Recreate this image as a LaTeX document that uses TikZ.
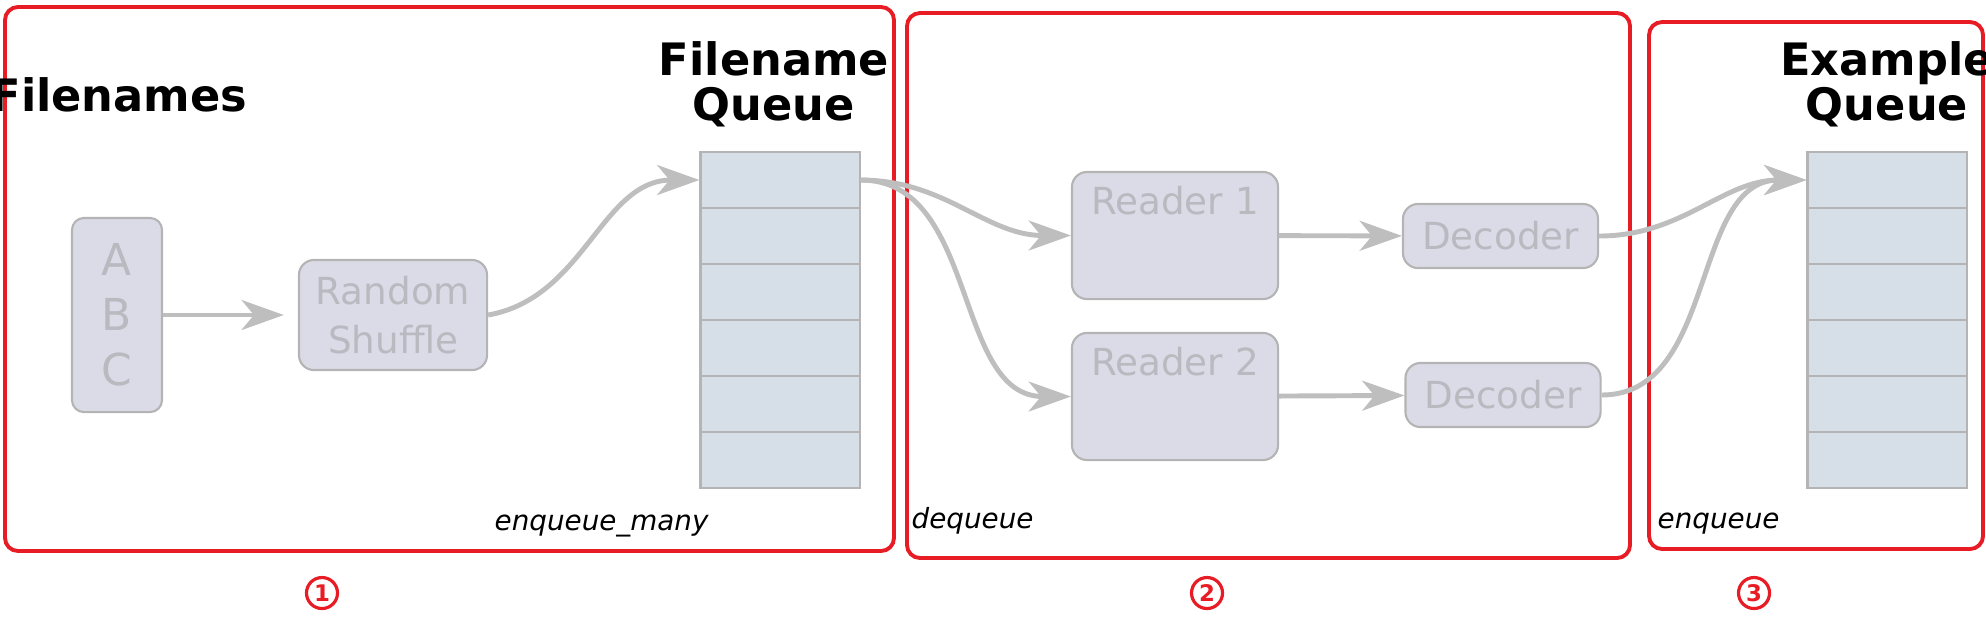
\documentclass[tikz,border=0pt]{standalone}
\usepackage{fontspec}
\setmainfont{DejaVu Sans}
\usetikzlibrary{arrows.meta}

\definecolor{groupred}{RGB}{232,28,36}
\definecolor{flowgrey}{RGB}{190,190,190}
\definecolor{boxfill}{RGB}{219,219,232}
\definecolor{cellfill}{RGB}{214,222,232}
\definecolor{boxline}{RGB}{180,180,180}
\definecolor{boxtext}{RGB}{185,185,192}

\begin{document}
\begin{tikzpicture}[x=0.01cm, y=-0.01cm,
        box/.style={draw=boxline, fill=boxfill, line width=0.6pt, rounded corners=0.15cm, text=boxtext, inner sep=0, align=center, font=\fontsize{10.6}{13.7}\selectfont},
        boxlabel/.style={anchor=north, inner sep=0, yshift=-0.15cm, text=boxtext, font=\fontsize{10.6}{13}\selectfont},
        cell/.style={rectangle, draw=boxline, fill=cellfill, line width=0.6pt, minimum width=1.59cm, minimum height=0.56cm, inner sep=0},
        flow/.style={draw=flowgrey, line width=1.4pt, -{Stealth[length=12pt, width=8.5pt, inset=3.5pt]}},
        group/.style={draw=groupred, line width=1.1pt, rounded corners=0.13cm},
        title/.style={inner sep=0, align=center, font=\fontsize{12.7}{12.8}\selectfont\bfseries},
        op/.style={inner sep=0, font=\fontsize{7.9}{9}\selectfont\itshape},
        num/.style={circle, draw=groupred, line width=0.9pt, text=groupred, minimum size=0.31cm, inner sep=0, font=\fontsize{6.5}{7}\selectfont\bfseries}]
        \useasboundingbox (0,0) rectangle (1986,620);

        % the three stages
        \draw[group] (5,7) rectangle (894,551);
        \draw[group] (907,13) rectangle (1630,558);
        \draw[group] (1649,22) rectangle (1983,549);

        \node[title, anchor=base east] (filenames) at (248,111) {Filenames};
        \node[title, anchor=north] (fqtitle) at (774,41) {Filename\\Queue};
        \node[title, anchor=north] (eqtitle) at (1887,41) {Example\\Queue};

        \node[box, minimum width=0.9cm, minimum height=1.94cm, rounded corners=0.12cm, font=\fontsize{12.5}{15.6}\selectfont] (abc) at (117,315) {A\\B\\C};
        \node[box, minimum width=1.88cm, minimum height=1.1cm] (shuffle) at (393,315) {Random\\Shuffle};

        \foreach \i in {0,...,5} {
            \node[cell] (fq\i) at (780,{180+56*\i}) {};
            \node[cell] (eq\i) at (1887,{180+56*\i}) {};
        }

        \node[box, minimum width=2.06cm, minimum height=1.27cm, label={[boxlabel]north:Reader 1}] (reader1) at (1175,235.5) {};
        \node[box, minimum width=2.06cm, minimum height=1.27cm, label={[boxlabel]north:Reader 2}] (reader2) at (1175,396.5) {};
        \node[box, minimum width=1.95cm, minimum height=0.64cm] (decoder1) at (1500.5,236) {Decoder};
        \node[box, minimum width=1.95cm, minimum height=0.64cm] (decoder2) at (1503,395) {Decoder};

        \draw[flow, shorten >=4pt] (abc) -- (shuffle);
        \draw[flow] (shuffle.east) to[out=10, in=180] (fq0.west);
        \draw[flow] (fq0.east) to[out=0, in=180] (reader1.west);
        \draw[flow] (fq0.east) to[out=0, in=180] (reader2.west);
        \draw[flow] (reader1) -- (decoder1);
        \draw[flow] (reader2) -- (decoder2);
        \draw[flow] (decoder1.east) to[out=0, in=180] (eq0.west);
        \draw[flow] (decoder2.east) to[out=0, in=180] (eq0.west);

        \node[op, anchor=base west] (enqmany) at (494,530) {enqueue\_many};
        \node[op, anchor=base west] (deq) at (911,528) {dequeue};
        \node[op, anchor=base west] (enq) at (1657,528) {enqueue};

        \node[num] (n1) at (322,593) {1};
        \node[num] (n2) at (1207,593) {2};
        \node[num] (n3) at (1754,593) {3};
    \end{tikzpicture}
\end{document}
